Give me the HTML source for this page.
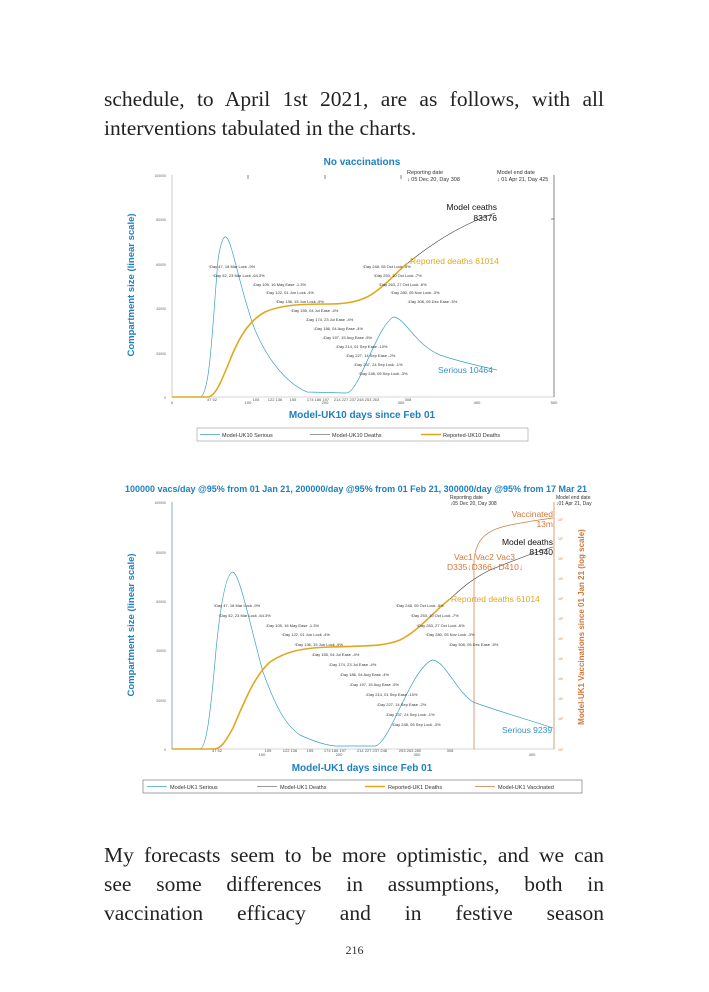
<!DOCTYPE html>
<html><head><meta charset="utf-8"><style>
body{margin:0;width:709px;height:992px;background:#fff;position:relative;overflow:hidden;font-family:"Liberation Serif",serif;}
.l{position:absolute;left:104px;width:500px;font-size:21.5px;color:#222;text-align:justify;text-align-last:justify;white-space:nowrap;line-height:24px;}
.n{position:absolute;left:0;width:709px;text-align:center;top:943px;font-size:12px;color:#333;}
svg{position:absolute;left:0;top:0;}
</style></head><body>
<div class="l" style="top:87px">schedule, to April 1st 2021, are as follows, with all</div>
<div class="l" style="top:116px;text-align-last:left">interventions tabulated in the charts.</div>
<div class="l" style="top:843px">My forecasts seem to be more optimistic, and we can</div>
<div class="l" style="top:872px">see some differences in assumptions, both in</div>
<div class="l" style="top:901px">vaccination efficacy and in festive season</div>
<div class="n">216</div>
<svg width="709" height="992" font-family="Liberation Sans, sans-serif">
<!-- TOP CHART -->
<text x="362" y="165" text-anchor="middle" font-size="10" font-weight="bold" fill="#1e7fc0">No vaccinations</text>
<text x="407" y="174" font-size="5.5" fill="#333">Reporting date</text>
<text x="407" y="181" font-size="5.5" fill="#333">↓ 05 Dec 20, Day 308</text>
<text x="497" y="174" font-size="5.5" fill="#333">Model end date</text>
<text x="497" y="181" font-size="5.5" fill="#333">↓ 01 Apr 21, Day 425</text>
<line x1="172" y1="175" x2="172" y2="397" stroke="#aaa" stroke-width="0.6"/>
<line x1="554" y1="175" x2="554" y2="397" stroke="#333" stroke-width="0.6"/>
<line x1="172" y1="397" x2="554" y2="397" stroke="#aaa" stroke-width="0.6"/>
<g font-size="3.5" fill="#666" text-anchor="end">
<text x="166" y="177">100000</text><text x="166" y="221">80000</text><text x="166" y="266">60000</text><text x="166" y="310">40000</text><text x="166" y="355">20000</text><text x="166" y="399">0</text></g>
<g stroke="#333" stroke-width="0.6"><line x1="248" y1="175" x2="248" y2="179"/><line x1="325" y1="175" x2="325" y2="179"/><line x1="401" y1="175" x2="401" y2="179"/><line x1="551" y1="219" x2="554" y2="219"/></g>
<g font-size="4" fill="#555" text-anchor="middle"><text x="172" y="404">0</text><text x="248" y="404">100</text><text x="325" y="404">200</text><text x="401" y="404">300</text><text x="477" y="404">400</text><text x="554" y="404">500</text>
<text x="212" y="401">47 52</text><text x="256" y="401">105</text><text x="275" y="401">122 136</text><text x="293" y="401">155</text><text x="318" y="401">174 186 197</text><text x="345" y="401">214 227 237</text><text x="368" y="401">248 253 263</text><text x="408" y="401">308</text></g>
<text transform="translate(134,285) rotate(-90)" text-anchor="middle" font-size="9.5" font-weight="bold" fill="#1e7fc0">Compartment size (linear scale)</text>
<text x="362" y="418" text-anchor="middle" font-size="10" font-weight="bold" fill="#1e7fc0">Model-UK10 days since Feb 01</text>
<path d="M172,397 L200,397 C210,396 212,330 218,260 C221,240 224,236 226,237 C232,240 240,290 255,330 C270,365 290,385 307,392 L347,393 C360,390 375,330 393,317 C405,317 415,345 440,355 C460,362 480,366 497,370" fill="none" stroke="#3aa0c8" stroke-width="0.7"/>
<path d="M408,263 C430,245 460,225 495,213" fill="none" stroke="#333" stroke-width="0.6"/>
<path d="M172,397 L208,397 C215,396 220,385 230,360 C240,335 250,320 265,312 C280,305 300,304 330,304 C350,304 365,300 375,292 C390,282 400,268 408,263" fill="none" stroke="#e0a820" stroke-width="1.6"/>
<text x="497" y="210" text-anchor="end" font-size="8.5" fill="#111">Model ceaths</text>
<text x="497" y="221" text-anchor="end" font-size="8.5" fill="#111">83376</text>
<text x="410" y="264" font-size="8.5" fill="#e0a820">Reported deaths 61014</text>
<text x="438" y="373" font-size="8.5" fill="#3a8fc0">Serious 10464</text>
<g font-size="4" fill="#333">
<text x="208" y="268">↑Day 47, 18 Mar Lock -9%</text><text x="212" y="277">↑Day 52, 23 Mar Lock -64.3%</text><text x="252" y="286">↓Day 105, 16 May Ease -1.3%</text><text x="265" y="294">↑Day 122, 01 Jun Lock -4%</text><text x="275" y="303">↑Day 136, 15 Jun Lock -9%</text><text x="290" y="312">↑Day 155, 04 Jul Ease -4%</text><text x="305" y="321">↓Day 174, 23 Jul Ease -4%</text><text x="313" y="330">↓Day 186, 04 Aug Ease -4%</text><text x="322" y="339">↓Day 197, 15 Aug Ease -5%</text><text x="335" y="348">↓Day 214, 01 Sep Ease -10%</text><text x="345" y="357">↓Day 227, 14 Sep Ease -2%</text><text x="353" y="366">↓Day 237, 24 Sep Lock -1%</text><text x="358" y="375">↑Day 248, 05 Sep Lock -3%</text>
<text x="362" y="268">↑Day 248, 05 Oct Lock -5%</text><text x="373" y="277">↑Day 253, 10 Oct Lock -7%</text><text x="378" y="286">↑Day 263, 27 Oct Lock -6%</text><text x="390" y="294">↑Day 280, 05 Nov Lock -3%</text><text x="407" y="303">↓Day 308, 05 Dec Ease -5%</text></g>
<rect x="197" y="428" width="331" height="13" fill="none" stroke="#999" stroke-width="0.6"/>
<g font-size="5.5" fill="#333"><line x1="200" y1="434.5" x2="220" y2="434.5" stroke="#3aa0c8" stroke-width="0.7"/><text x="222" y="437">Model-UK10 Serious</text>
<line x1="310" y1="434.5" x2="330" y2="434.5" stroke="#333" stroke-width="0.6"/><text x="332" y="437">Model-UK10 Deaths</text>
<line x1="421" y1="434.5" x2="441" y2="434.5" stroke="#e0a820" stroke-width="1.6"/><text x="443" y="437">Reported-UK10 Deaths</text></g>

<!-- BOTTOM CHART -->
<text x="356" y="492" text-anchor="middle" font-size="9" font-weight="bold" fill="#1e7fc0">100000 vacs/day @95% from 01 Jan 21, 200000/day @95% from 01 Feb 21, 300000/day @95% from 17 Mar 21</text>
<text x="450" y="499" font-size="5" fill="#333">Reporting date</text>
<text x="450" y="505" font-size="5" fill="#333">↓05 Dec 20, Day 308</text>
<text x="556" y="499" font-size="5" fill="#333">Model end date</text>
<text x="556" y="505" font-size="5" fill="#333">↓01 Apr 21, Day</text>
<line x1="172" y1="502" x2="172" y2="749" stroke="#2a7aa8" stroke-width="0.6"/>
<line x1="554" y1="502" x2="554" y2="749" stroke="#d2773a" stroke-width="0.7"/>
<line x1="172" y1="749" x2="554" y2="749" stroke="#aaa" stroke-width="0.6"/>
<g font-size="3.5" fill="#666" text-anchor="end"><text x="166" y="504">100000</text><text x="166" y="554">80000</text><text x="166" y="603">60000</text><text x="166" y="652">40000</text><text x="166" y="702">20000</text><text x="166" y="751">0</text></g>
<g font-size="3.5" fill="#d2773a"><text x="558" y="521">10⁷</text><text x="558" y="540">10⁷</text><text x="558" y="560">10⁶</text><text x="558" y="580">10⁶</text><text x="558" y="600">10⁵</text><text x="558" y="620">10⁵</text><text x="558" y="640">10⁴</text><text x="558" y="660">10³</text><text x="558" y="680">10²</text><text x="558" y="700">10¹</text><text x="558" y="720">10⁰</text><text x="558" y="751">10⁰</text></g>
<g font-size="4" fill="#555" text-anchor="middle"><text x="262" y="756">100</text><text x="339" y="756">200</text><text x="417" y="756">300</text><text x="532" y="756">400</text>
<text x="217" y="752">47 52</text><text x="268" y="752">105</text><text x="290" y="752">122 136</text><text x="310" y="752">155</text><text x="335" y="752">174 186 197</text><text x="372" y="752">214 227 237 248</text><text x="410" y="752">253 263 280</text><text x="450" y="752">308</text></g>
<text transform="translate(134,625) rotate(-90)" text-anchor="middle" font-size="9.5" font-weight="bold" fill="#1e7fc0">Compartment size (linear scale)</text>
<text transform="translate(584,627) rotate(-90)" text-anchor="middle" font-size="8" font-weight="bold" fill="#d2773a">Model-UK1 Vaccinations since 01 Jan 21 (log scale)</text>
<text x="362" y="771" text-anchor="middle" font-size="10" font-weight="bold" fill="#1e7fc0">Model-UK1 days since Feb 01</text>
<path d="M172,749 L200,749 C206,748 210,720 216,650 C222,590 228,572 233,572 C240,575 250,625 263,672 C275,705 285,725 300,735 C315,742 325,745 335,746 L375,746 C390,744 410,670 432,660 C445,660 455,690 473,702 C500,712 530,720 553,728" fill="none" stroke="#3aa0c8" stroke-width="0.7"/>
<path d="M450,599 C460,590 470,580 490,570 C515,560 535,552 553,547" fill="none" stroke="#333" stroke-width="0.6"/>
<path d="M474,749 L474,560 C476,540 485,530 510,525 C530,521 545,519 553,518" fill="none" stroke="#d2773a" stroke-width="0.7"/>
<path d="M172,749 L215,749 C222,748 226,740 233,728 C245,700 255,675 270,662 C285,652 300,648 330,647 C370,646 385,646 400,640 C420,630 435,610 450,599" fill="none" stroke="#e0a820" stroke-width="1.6"/>
<text x="553" y="517" text-anchor="end" font-size="8.5" fill="#d2773a">Vaccinated</text>
<text x="553" y="527" text-anchor="end" font-size="8.5" fill="#d2773a">13m</text>
<text x="553" y="545" text-anchor="end" font-size="8.5" fill="#111">Model deaths</text>
<text x="553" y="555" text-anchor="end" font-size="8.5" fill="#111">81940</text>
<text x="454" y="560" font-size="8.5" fill="#d2773a">Vac1  Vac2    Vac3</text>
<text x="447" y="570" font-size="8.5" fill="#d2773a">D335↓D366↓   D410↓</text>
<text x="451" y="602" font-size="8.5" fill="#e0a820">Reported deaths 61014</text>
<text x="502" y="733" font-size="8.5" fill="#3a8fc0">Serious 9239</text>
<g font-size="4" fill="#333">
<text x="213" y="607">↑Day 47, 18 Mar Lock -9%</text><text x="218" y="617">↑Day 52, 23 Mar Lock -64.3%</text><text x="265" y="627">↓Day 105, 16 May Ease -1.3%</text><text x="281" y="636">↑Day 122, 01 Jun Lock -4%</text><text x="294" y="646">↑Day 136, 15 Jun Lock -9%</text><text x="311" y="656">↓Day 155, 04 Jul Ease -4%</text><text x="328" y="666">↓Day 174, 23 Jul Ease -4%</text><text x="339" y="676">↓Day 186, 04 Aug Ease -4%</text><text x="349" y="686">↓Day 197, 15 Aug Ease -5%</text><text x="365" y="696">↓Day 214, 01 Sep Ease -10%</text><text x="376" y="706">↓Day 227, 14 Sep Ease -2%</text><text x="385" y="716">↓Day 237, 24 Sep Lock -1%</text><text x="391" y="726">↑Day 248, 05 Sep Lock -3%</text>
<text x="395" y="607">↑Day 248, 05 Oct Lock -5%</text><text x="410" y="617">↑Day 253, 10 Oct Lock -7%</text><text x="416" y="627">↑Day 263, 27 Oct Lock -6%</text><text x="425" y="636">↑Day 280, 05 Nov Lock -3%</text><text x="448" y="646">↓Day 308, 05 Dec Ease -5%</text></g>
<rect x="143" y="780" width="439" height="13" fill="none" stroke="#666" stroke-width="0.6"/>
<g font-size="5.5" fill="#333"><line x1="147" y1="786.5" x2="167" y2="786.5" stroke="#3aa0c8" stroke-width="0.7"/><text x="170" y="789">Model-UK1 Serious</text>
<line x1="257" y1="786.5" x2="277" y2="786.5" stroke="#333" stroke-width="0.6"/><text x="280" y="789">Model-UK1 Deaths</text>
<line x1="365" y1="786.5" x2="385" y2="786.5" stroke="#e0a820" stroke-width="1.6"/><text x="388" y="789">Reported-UK1 Deaths</text>
<line x1="475" y1="786.5" x2="495" y2="786.5" stroke="#d2773a" stroke-width="0.7"/><text x="498" y="789">Model-UK1 Vaccinated</text></g>
</svg>
</body></html>
